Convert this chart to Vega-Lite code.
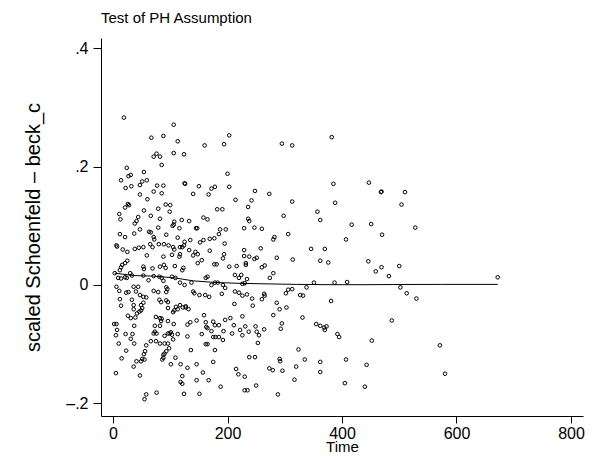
{
"$schema":"https://vega.github.io/schema/vega-lite/v6.json",
"width":482,"height":378,
"autosize":"none",
"padding":{"left":101,"top":38,"right":11,"bottom":40},
"background":"white",
"title":{"text":"Test of PH Assumption","anchor":"start","frame":"group","fontSize":15,"font":"Liberation Sans","fontWeight":"normal","color":"black","baseline":"bottom","offset":-3},
"config":{"view":{"stroke":null},"axis":{"grid":false,"domainColor":"black","tickColor":"black","labelColor":"black","titleColor":"black","labelFont":"Liberation Sans","titleFont":"Liberation Sans","titleFontWeight":"normal","labelFontSize":16,"titleFontSize":15}},
"datasets":{
"pts":[
{"t":19,"v":0.283},{"t":106,"v":0.271},{"t":67,"v":0.249},{"t":88,"v":0.252},{"t":113,"v":0.243},{"t":203,"v":0.253},{"t":160,"v":0.236},{"t":194,"v":0.238},{"t":71,"v":0.217},{"t":76,"v":0.222},{"t":82,"v":0.217},{"t":106,"v":0.223},{"t":124,"v":0.221},{"t":85,"v":0.203},{"t":24,"v":0.198},{"t":54,"v":0.191},{"t":27,"v":0.184},{"t":31,"v":0.186},{"t":14,"v":0.177},{"t":51,"v":0.175},{"t":59,"v":0.177},{"t":47,"v":0.169},{"t":22,"v":0.164},{"t":32,"v":0.167},{"t":77,"v":0.168},{"t":88,"v":0.168},{"t":125,"v":0.172},{"t":126,"v":0.171},{"t":150,"v":0.167},{"t":200,"v":0.188},{"t":203,"v":0.166},{"t":172,"v":0.163},{"t":178,"v":0.166},{"t":71,"v":0.158},{"t":85,"v":0.155},{"t":47,"v":0.153},{"t":140,"v":0.154},{"t":167,"v":0.153},{"t":60,"v":0.145},{"t":26,"v":0.137},{"t":28,"v":0.135},{"t":92,"v":0.136},{"t":100,"v":0.135},
{"t":295,"v":0.239},{"t":313,"v":0.236},{"t":382,"v":0.250},{"t":385,"v":0.171},{"t":248,"v":0.159},{"t":273,"v":0.154},{"t":214,"v":0.144},{"t":242,"v":0.143},{"t":313,"v":0.141},{"t":388,"v":0.139},{"t":236,"v":0.132},
{"t":447,"v":0.173},{"t":468,"v":0.157},{"t":469,"v":0.158},{"t":510,"v":0.157},{"t":504,"v":0.136},
{"t":21,"v":0.131},{"t":54,"v":0.126},{"t":79,"v":0.129},{"t":99,"v":0.124},{"t":182,"v":0.128},{"t":191,"v":0.128},{"t":11,"v":0.120},{"t":13,"v":0.111},{"t":44,"v":0.115},{"t":41,"v":0.108},{"t":38,"v":0.104},{"t":66,"v":0.117},{"t":82,"v":0.112},{"t":104,"v":0.100},{"t":106,"v":0.102},{"t":107,"v":0.107},{"t":120,"v":0.110},{"t":133,"v":0.108},{"t":158,"v":0.114},{"t":165,"v":0.111},{"t":47,"v":0.094},{"t":37,"v":0.087},{"t":63,"v":0.090},{"t":66,"v":0.089},{"t":79,"v":0.097},{"t":116,"v":0.096},{"t":145,"v":0.096},{"t":147,"v":0.096},{"t":187,"v":0.094},{"t":197,"v":0.094},{"t":12,"v":0.086},{"t":21,"v":0.081},{"t":71,"v":0.081},{"t":72,"v":0.077},{"t":93,"v":0.085},{"t":113,"v":0.080},{"t":125,"v":0.073},{"t":135,"v":0.076},{"t":152,"v":0.072},{"t":158,"v":0.076},{"t":169,"v":0.078},{"t":177,"v":0.079},{"t":185,"v":0.086},{"t":195,"v":0.070},{"t":6,"v":0.067},{"t":7,"v":0.065},{"t":17,"v":0.060},{"t":25,"v":0.056},{"t":38,"v":0.061},{"t":45,"v":0.063},{"t":53,"v":0.064},{"t":65,"v":0.069},{"t":69,"v":0.064},{"t":80,"v":0.069},{"t":89,"v":0.069},{"t":97,"v":0.067},{"t":105,"v":0.064},{"t":107,"v":0.060},{"t":117,"v":0.064},{"t":121,"v":0.064},{"t":124,"v":0.067},{"t":133,"v":0.059},{"t":144,"v":0.056},{"t":148,"v":0.052},{"t":169,"v":0.058},{"t":194,"v":0.052},{"t":59,"v":0.050},{"t":88,"v":0.048},{"t":103,"v":0.051},{"t":117,"v":0.052},{"t":116,"v":0.048},{"t":140,"v":0.050},{"t":155,"v":0.042},{"t":148,"v":0.037},{"t":177,"v":0.035},{"t":181,"v":0.035},{"t":192,"v":0.045},{"t":203,"v":0.031},{"t":25,"v":0.041},{"t":21,"v":0.037},{"t":16,"v":0.034},{"t":14,"v":0.030},{"t":12,"v":0.025},{"t":53,"v":0.031},{"t":54,"v":0.027},{"t":69,"v":0.028},{"t":82,"v":0.031},{"t":89,"v":0.034},{"t":92,"v":0.029},{"t":108,"v":0.032},{"t":123,"v":0.029},{"t":121,"v":0.025},{"t":3,"v":0.020},{"t":9,"v":0.012},{"t":14,"v":0.011},{"t":21,"v":0.013},{"t":24,"v":0.012},{"t":30,"v":0.020},{"t":33,"v":0.016},{"t":53,"v":0.016},{"t":62,"v":0.008},{"t":71,"v":0.015},{"t":81,"v":0.014},{"t":85,"v":0.012},{"t":88,"v":0.007},{"t":103,"v":0.014},{"t":109,"v":0.012},{"t":117,"v":0.004},{"t":125,"v":0.000},{"t":137,"v":0.004},{"t":162,"v":0.012},{"t":165,"v":0.014},{"t":172,"v":0.000},{"t":178,"v":0.004},{"t":183,"v":0.004},{"t":192,"v":0.000},{"t":196,"v":-0.005},{"t":6,"v":-0.003},{"t":11,"v":-0.010},{"t":23,"v":-0.013},{"t":27,"v":-0.012},{"t":36,"v":-0.003},{"t":44,"v":-0.003},{"t":40,"v":-0.011},{"t":47,"v":-0.017},{"t":71,"v":-0.010},{"t":79,"v":-0.012},{"t":93,"v":-0.004},{"t":95,"v":-0.007},{"t":93,"v":-0.012},{"t":140,"v":-0.011},{"t":142,"v":-0.014},{"t":151,"v":-0.017},{"t":161,"v":-0.017},{"t":168,"v":-0.020},{"t":190,"v":-0.015},{"t":12,"v":-0.024},{"t":14,"v":-0.035},{"t":33,"v":-0.025},{"t":36,"v":-0.034},{"t":53,"v":-0.020},{"t":58,"v":-0.021},{"t":53,"v":-0.030},{"t":49,"v":-0.034},{"t":81,"v":-0.025},{"t":84,"v":-0.029},{"t":93,"v":-0.026},{"t":96,"v":-0.029},{"t":110,"v":-0.037},{"t":117,"v":-0.034},{"t":127,"v":-0.036},
{"t":357,"v":0.124},{"t":362,"v":0.110},{"t":298,"v":0.117},{"t":417,"v":0.102},{"t":236,"v":0.112},{"t":238,"v":0.108},{"t":229,"v":0.096},{"t":247,"v":0.097},{"t":260,"v":0.095},{"t":306,"v":0.086},{"t":280,"v":0.077},{"t":282,"v":0.081},{"t":407,"v":0.077},{"t":258,"v":0.062},{"t":346,"v":0.061},{"t":370,"v":0.061},{"t":229,"v":0.059},{"t":229,"v":0.049},{"t":238,"v":0.048},{"t":247,"v":0.044},{"t":251,"v":0.046},{"t":286,"v":0.046},{"t":314,"v":0.043},{"t":362,"v":0.041},{"t":376,"v":0.038},{"t":232,"v":0.037},{"t":232,"v":0.034},{"t":216,"v":0.032},{"t":260,"v":0.030},{"t":265,"v":0.033},{"t":280,"v":0.020},{"t":274,"v":0.012},{"t":213,"v":0.017},{"t":220,"v":0.012},{"t":224,"v":0.017},{"t":234,"v":0.010},{"t":230,"v":0.003},{"t":226,"v":0.002},{"t":351,"v":0.004},{"t":387,"v":0.004},{"t":409,"v":0.005},{"t":338,"v":-0.004},{"t":313,"v":-0.007},{"t":306,"v":-0.008},{"t":302,"v":-0.014},{"t":213,"v":-0.011},{"t":220,"v":-0.013},{"t":226,"v":-0.018},{"t":234,"v":-0.016},{"t":243,"v":-0.023},{"t":264,"v":-0.015},{"t":265,"v":-0.018},{"t":260,"v":-0.024},{"t":327,"v":-0.017},{"t":332,"v":-0.018},{"t":381,"v":-0.027},{"t":212,"v":-0.032},{"t":244,"v":-0.035},{"t":286,"v":-0.030},
{"t":451,"v":0.103},{"t":528,"v":0.097},{"t":470,"v":0.085},{"t":446,"v":0.040},{"t":459,"v":0.023},{"t":469,"v":0.030},{"t":500,"v":0.032},{"t":482,"v":0.015},{"t":672,"v":0.013},{"t":502,"v":-0.004},{"t":513,"v":-0.014},{"t":530,"v":-0.023},
{"t":487,"v":-0.060},{"t":452,"v":-0.094},{"t":571,"v":-0.102},{"t":443,"v":-0.135},{"t":580,"v":-0.150},{"t":440,"v":-0.172},
{"t":291,"v":-0.041},{"t":303,"v":-0.038},{"t":226,"v":-0.053},{"t":280,"v":-0.051},{"t":331,"v":-0.055},{"t":211,"v":-0.068},{"t":231,"v":-0.070},{"t":249,"v":-0.070},{"t":222,"v":-0.076},{"t":226,"v":-0.085},{"t":237,"v":-0.079},{"t":251,"v":-0.079},{"t":255,"v":-0.085},{"t":264,"v":-0.075},{"t":295,"v":-0.065},{"t":293,"v":-0.074},{"t":355,"v":-0.066},{"t":362,"v":-0.069},{"t":369,"v":-0.072},{"t":370,"v":-0.076},{"t":373,"v":-0.070},{"t":392,"v":-0.083},{"t":395,"v":-0.088},{"t":253,"v":-0.098},{"t":324,"v":-0.109},{"t":238,"v":-0.122},{"t":248,"v":-0.122},{"t":291,"v":-0.125},{"t":292,"v":-0.129},{"t":335,"v":-0.126},{"t":362,"v":-0.130},{"t":407,"v":-0.126},{"t":215,"v":-0.142},{"t":219,"v":-0.151},{"t":230,"v":-0.155},{"t":273,"v":-0.141},{"t":279,"v":-0.144},{"t":296,"v":-0.145},{"t":320,"v":-0.138},{"t":362,"v":-0.147},{"t":317,"v":-0.160},{"t":405,"v":-0.166},{"t":230,"v":-0.178},{"t":235,"v":-0.178},{"t":250,"v":-0.170},{"t":288,"v":-0.185},
{"t":26,"v":-0.052},{"t":31,"v":-0.056},{"t":39,"v":-0.055},{"t":42,"v":-0.048},{"t":46,"v":-0.045},{"t":49,"v":-0.043},{"t":51,"v":-0.039},{"t":36,"v":-0.041},{"t":96,"v":-0.039},{"t":105,"v":-0.046},{"t":107,"v":-0.043},{"t":113,"v":-0.041},{"t":122,"v":-0.038},{"t":127,"v":-0.038},{"t":132,"v":-0.041},{"t":75,"v":-0.054},{"t":82,"v":-0.056},{"t":85,"v":-0.057},{"t":84,"v":-0.061},{"t":96,"v":-0.061},{"t":106,"v":-0.066},{"t":2,"v":-0.066},{"t":6,"v":-0.066},{"t":37,"v":-0.069},{"t":7,"v":-0.076},{"t":5,"v":-0.085},{"t":22,"v":-0.083},{"t":34,"v":-0.083},{"t":31,"v":-0.091},{"t":37,"v":-0.099},{"t":10,"v":-0.099},{"t":73,"v":-0.069},{"t":82,"v":-0.069},{"t":130,"v":-0.067},{"t":135,"v":-0.063},{"t":146,"v":-0.060},{"t":159,"v":-0.051},{"t":162,"v":-0.063},{"t":175,"v":-0.062},{"t":178,"v":-0.068},{"t":185,"v":-0.068},{"t":196,"v":-0.059},{"t":205,"v":-0.056},{"t":163,"v":-0.071},{"t":165,"v":-0.073},{"t":71,"v":-0.082},{"t":73,"v":-0.079},{"t":76,"v":-0.082},{"t":90,"v":-0.086},{"t":96,"v":-0.082},{"t":99,"v":-0.082},{"t":101,"v":-0.080},{"t":103,"v":-0.084},{"t":113,"v":-0.083},{"t":130,"v":-0.087},{"t":155,"v":-0.083},{"t":172,"v":-0.078},{"t":175,"v":-0.088},{"t":179,"v":-0.088},{"t":185,"v":-0.088},{"t":193,"v":-0.078},{"t":192,"v":-0.093},{"t":208,"v":-0.082},{"t":66,"v":-0.095},{"t":75,"v":-0.095},{"t":82,"v":-0.099},{"t":90,"v":-0.099},{"t":96,"v":-0.099},{"t":105,"v":-0.092},{"t":58,"v":-0.102},{"t":56,"v":-0.112},{"t":54,"v":-0.117},{"t":51,"v":-0.125},{"t":41,"v":-0.129},{"t":49,"v":-0.129},{"t":55,"v":-0.126},{"t":23,"v":-0.111},{"t":15,"v":-0.124},{"t":36,"v":-0.138},{"t":5,"v":-0.149},{"t":47,"v":-0.153},{"t":88,"v":-0.118},{"t":88,"v":-0.123},{"t":86,"v":-0.126},{"t":90,"v":-0.116},{"t":93,"v":-0.112},{"t":98,"v":-0.107},{"t":109,"v":-0.123},{"t":101,"v":-0.134},{"t":118,"v":-0.134},{"t":130,"v":-0.140},{"t":136,"v":-0.110},{"t":146,"v":-0.134},{"t":157,"v":-0.148},{"t":162,"v":-0.100},{"t":165,"v":-0.100},{"t":178,"v":-0.110},{"t":175,"v":-0.130},{"t":188,"v":-0.172},{"t":121,"v":-0.154},{"t":118,"v":-0.164},{"t":121,"v":-0.167},{"t":146,"v":-0.161},{"t":167,"v":-0.161},{"t":76,"v":-0.182},{"t":58,"v":-0.185},{"t":55,"v":-0.193},{"t":124,"v":-0.184},{"t":151,"v":-0.184}
],
"lowess":[
{"t":3,"v":0.020},{"t":36,"v":0.016},{"t":71,"v":0.015},{"t":108,"v":0.012},{"t":140,"v":0.007},{"t":175,"v":0.0045},{"t":213,"v":0.003},{"t":262,"v":0.002},{"t":321,"v":0.001},{"t":379,"v":0.0005},{"t":440,"v":0.0005},{"t":490,"v":0.0008},{"t":574,"v":0.001},{"t":672,"v":0.001}
]},
"layer":[
{"data":{"name":"pts"},
 "mark":{"type":"point","shape":"circle","filled":false,"stroke":"black","strokeWidth":1,"size":13,"opacity":1},
 "encoding":{
  "x":{"field":"t","type":"quantitative","scale":{"domain":[-21,821],"nice":false,"zero":false},
       "axis":{"values":[0,200,400,600,800],"title":"Time","tickSize":7,"labelPadding":2,"titlePadding":-2,"labelFlush":false}},
  "y":{"field":"v","type":"quantitative","scale":{"domain":[-0.2215,0.4176],"nice":false,"zero":false},
       "axis":{"values":[-0.2,0,0.2,0.4],"title":"scaled Schoenfeld – beck_c","titleFontSize":20,"tickSize":8,"labelPadding":5,
               "labelExpr":"datum.value > 0.3 ? '.4' : datum.value > 0.1 ? '.2' : datum.value > -0.1 ? '0' : '–.2'",
               "titleX":-58,"titleBaseline":"bottom"}}
 }},
{"data":{"name":"lowess"},
 "mark":{"type":"line","color":"black","strokeWidth":1},
 "encoding":{"x":{"field":"t","type":"quantitative"},"y":{"field":"v","type":"quantitative"}}}
]
}
